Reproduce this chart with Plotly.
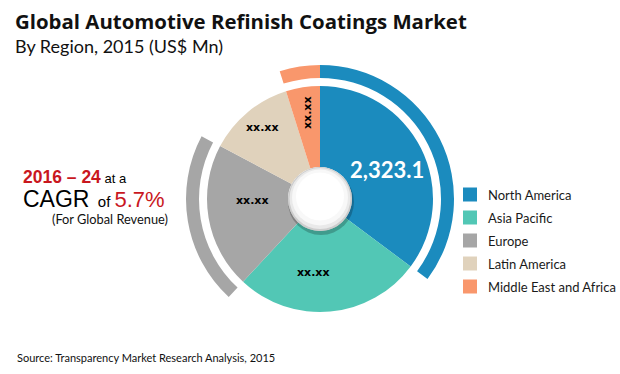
import math
import plotly.graph_objects as go

W, H = 620, 374

# ---------------- data ----------------
regions = ["North America", "Asia Pacific", "Europe", "Latin America", "Middle East and Africa"]
values = [2323.1, 1766, 1375, 818, 321]
value_labels = ["2,323.1", "xx.xx", "xx.xx", "xx.xx", "xx.xx"]
colors = ["#1B8BBE", "#52C7B5", "#A6A6A6", "#E0D2BC", "#F9976C"]
ring_shown = [True, False, True, False, True]

title = "Global Automotive Refinish Coatings Market"
subtitle = "By Region, 2015 (US$ Mn)"
source = "Source: Transparency Market Research Analysis, 2015"
cagr_period = "2016 – 24"
cagr_value = "5.7%"
cagr_note = "(For Global Revenue)"

# ---------------- layout geometry (pixels) ----------------
CX, CY = 320, 199
R_PIE = 113
R_RING_IN, R_RING_OUT = 121, 134
R_HUB = 32

CAL = "Lato, 'Open Sans', sans-serif"
OPEN = "'Open Sans', sans-serif"
ARIAL = "'Liberation Sans', Arial, sans-serif"


def px(x):
    return x / W


def py(y):
    return 1 - y / H


def domain(r):
    return dict(x=[px(CX - r), px(CX + r)], y=[py(CY + r), py(CY - r)])


fig = go.Figure()

fig.add_trace(go.Pie(
    values=values, labels=regions, sort=False, direction="clockwise", rotation=0,
    marker=dict(colors=colors, line=dict(width=0)),
    hole=R_HUB / R_PIE, textinfo="none", domain=domain(R_PIE),
    showlegend=False, hoverinfo="label+value",
))

ring_colors = [c if s else "rgba(0,0,0,0)" for c, s in zip(colors, ring_shown)]
fig.add_trace(go.Pie(
    values=values, labels=regions, sort=False, direction="clockwise", rotation=0,
    marker=dict(colors=ring_colors, line=dict(width=0)),
    hole=R_RING_IN / R_RING_OUT, textinfo="none", domain=domain(R_RING_OUT),
    showlegend=False, hoverinfo="skip",
))

shapes = []
annotations = []


def circle(cx, cy, r, fill):
    shapes.append(dict(type="circle", xref="paper", yref="paper",
                       x0=px(cx - r), x1=px(cx + r), y0=py(cy + r), y1=py(cy - r),
                       fillcolor=fill, line=dict(width=0), layer="above"))


# hub
circle(CX + 1, CY + 3, R_HUB + 1, "rgba(0,0,0,0.22)")
circle(CX, CY, R_HUB, "#CDCDCD")
circle(CX, CY - 0.5, R_HUB - 1.5, "#E9E9E9")
circle(CX, CY - 1.5, R_HUB - 4, "#F8F8F8")
circle(CX, CY - 2.5, R_HUB - 8, "#FFFFFF")

# slice value labels, positioned at slice mid-angles
label_radius = [73, 74, 68, 92, 87]
label_angle_shift = [3, 10, 8, 1, 1]
small = dict(family="'DejaVu Sans'", size=11, color="black")
label_fonts = [dict(family=CAL, size=22, color="white"), small, small, small, small]
label_angles = [0, 0, 0, 0, -90]
total = sum(values)
cum = 0
for i, v in enumerate(values):
    mid = (cum + v / 2) / total * 360 + label_angle_shift[i]
    cum += v
    a = math.radians(mid)
    x = CX + label_radius[i] * math.sin(a)
    y = CY - label_radius[i] * math.cos(a)
    annotations.append(dict(x=px(x), y=py(y), xref="paper", yref="paper",
                            text=f"<b>{value_labels[i]}</b>", showarrow=False,
                            font=label_fonts[i], textangle=label_angles[i],
                            xanchor="center", yanchor="middle"))

# legend
LX, LY0, LDY, LS = 463, 194.5, 23, 14
for i, name in enumerate(regions):
    yc = LY0 + i * LDY
    shapes.append(dict(type="rect", xref="paper", yref="paper",
                       x0=px(LX), x1=px(LX + LS), y0=py(yc + LS / 2), y1=py(yc - LS / 2),
                       fillcolor=colors[i], line=dict(width=0)))
    annotations.append(dict(x=px(LX + 23), y=py(yc), xref="paper", yref="paper",
                            text=name, showarrow=False, xanchor="left", yanchor="middle",
                            font=dict(family=CAL, size=13, color="#1a1a1a")))

# titles
annotations.append(dict(x=px(13), y=py(21), xref="paper", yref="paper",
                        text=f"<b>{title}</b>", showarrow=False, xanchor="left",
                        yanchor="middle", font=dict(family=OPEN, size=20.4, color="#111111")))
annotations.append(dict(x=px(13), y=py(46), xref="paper", yref="paper",
                        text=subtitle, showarrow=False, xanchor="left",
                        yanchor="middle", font=dict(family=CAL, size=18, color="#111111")))
annotations.append(dict(x=px(15), y=py(357), xref="paper", yref="paper",
                        text=source, showarrow=False, xanchor="left",
                        yanchor="middle", font=dict(family=CAL, size=11, color="#111111")))

# CAGR callout
RED = "#C9171E"
annotations.append(dict(x=px(21), y=py(177), xref="paper", yref="paper",
                        text=(f"<b><span style='color:{RED};font-size:17.5px'>{cagr_period}</span></b>"
                              f" <span style='font-size:13px'>at a</span>"),
                        showarrow=False, xanchor="left", yanchor="middle",
                        font=dict(family=ARIAL, size=13, color="black")))
annotations.append(dict(x=px(21), y=py(199), xref="paper", yref="paper",
                        text=(f"<span style='font-size:23px'>CAGR</span>"
                              f"  <span style='font-size:15px'>of</span> "
                              f"<span style='color:{RED};font-size:22px'>{cagr_value}</span>"),
                        showarrow=False, xanchor="left", yanchor="middle",
                        font=dict(family=ARIAL, size=15, color="black")))
annotations.append(dict(x=px(110), y=py(219), xref="paper", yref="paper",
                        text=cagr_note, showarrow=False, xanchor="center", yanchor="middle",
                        font=dict(family=CAL, size=12.8, color="#111111")))

fig.update_layout(
    width=W, height=H, margin=dict(l=0, r=0, t=0, b=0),
    paper_bgcolor="white", plot_bgcolor="white",
    shapes=shapes, annotations=annotations, showlegend=False,
)

fig.write_html("out.html", config={"displayModeBar": False},
               post_script="document.body.style.margin='0';document.body.style.overflow='hidden';")
